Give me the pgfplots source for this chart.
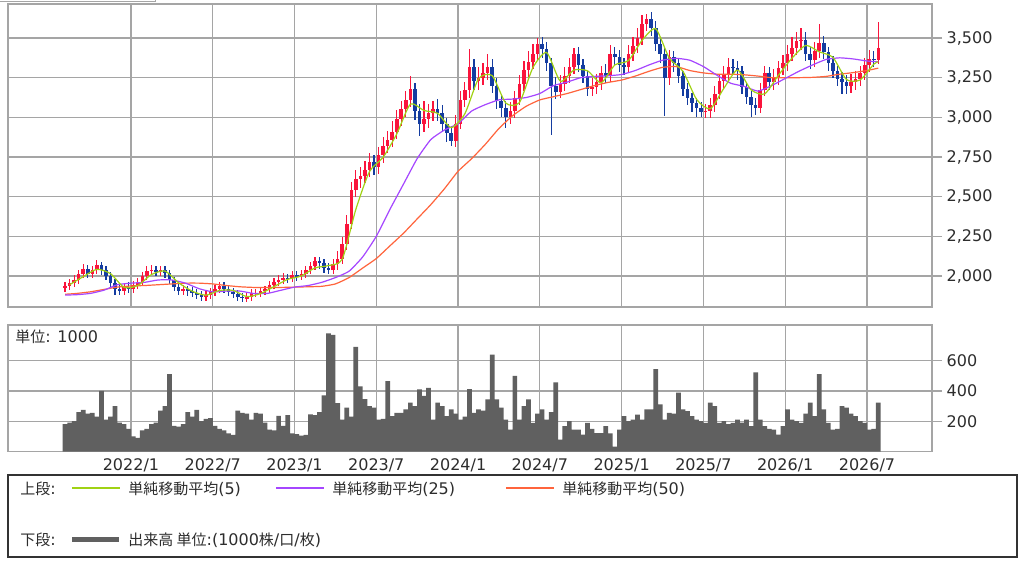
\documentclass[border=0pt]{standalone}
\usepackage{pgfplots}
\pgfplotsset{compat=1.18}
\usepackage{pgfplotstable}
\usepackage{fontspec}
\setmainfont{DejaVu Sans}
\newfontfamily\cjk{Noto Sans CJK JP}
\definecolor{gridc}{RGB}{165,165,165}
\definecolor{upc}{RGB}{250,20,60}
\definecolor{dnc}{RGB}{20,60,160}
\definecolor{ma5c}{RGB}{160,210,20}
\definecolor{ma25c}{RGB}{165,70,255}
\definecolor{ma50c}{RGB}{255,100,60}
\definecolor{volc}{RGB}{96,96,96}
\definecolor{txt}{RGB}{45,45,45}
\newcommand\lf{\fontsize{12pt}{14pt}\selectfont}
\newcommand\jf{\cjk\fontsize{11.25pt}{13pt}\selectfont}

\pgfplotstableread{
o h l c v
1925 1965 1900 1935 180
1935 1980 1910 1955 190
1955 2005 1930 1975 200
1975 2040 1950 2010 260
2010 2075 1985 2045 275
2045 2070 1985 2015 250
2015 2065 1990 2040 255
2040 2100 2015 2070 230
2070 2090 2005 2035 400
2035 2060 1975 2000 210
2000 2025 1930 1955 230
1955 1980 1880 1920 300
1920 1950 1880 1905 190
1905 1955 1880 1930 180
1930 1960 1895 1920 150
1920 1970 1895 1945 100
1945 1990 1920 1965 90
1965 2025 1940 2000 140
2000 2060 1975 2030 150
2030 2070 2005 2040 180
2040 2065 2000 2025 190
2025 2065 2000 2040 270
2040 2060 1990 2020 300
2020 2040 1950 1975 510
1975 1995 1905 1930 170
1930 1955 1880 1905 165
1905 1945 1880 1915 180
1915 1940 1875 1905 260
1905 1930 1865 1890 230
1890 1915 1855 1880 275
1880 1905 1840 1865 200
1865 1905 1840 1880 215
1880 1925 1855 1900 220
1900 1945 1875 1920 170
1920 1960 1895 1935 150
1935 1960 1890 1915 140
1915 1940 1875 1900 120
1900 1925 1860 1885 110
1885 1910 1845 1870 270
1870 1895 1835 1860 255
1860 1890 1835 1865 250
1865 1915 1845 1890 210
1890 1920 1865 1895 255
1895 1930 1870 1905 250
1905 1940 1880 1915 190
1915 1970 1890 1945 145
1945 1990 1920 1965 140
1965 2005 1940 1975 235
1975 2020 1950 1990 170
1990 2015 1955 1985 240
1985 2030 1960 2005 120
2005 2030 1970 2000 115
2000 2040 1975 2010 105
2010 2065 1985 2040 110
2040 2090 2015 2060 245
2060 2120 2035 2095 240
2095 2120 2045 2080 260
2080 2105 2020 2050 370
2050 2080 2010 2040 780
2040 2105 2015 2075 770
2075 2155 2040 2110 320
2110 2245 2075 2200 210
2200 2385 2165 2330 290
2330 2595 2295 2540 230
2540 2665 2495 2610 690
2610 2685 2555 2630 430
2630 2725 2585 2670 345
2670 2775 2625 2720 300
2720 2765 2635 2690 290
2690 2815 2645 2760 211
2760 2875 2715 2820 215
2820 2915 2775 2860 465
2860 2975 2815 2910 233
2910 3045 2865 2990 255
2990 3105 2945 3050 255
3050 3165 3005 3110 278
3110 3260 3065 3180 322
3180 3215 2985 3040 300
3040 3085 2880 2960 410
2960 3105 2905 2990 367
2990 3085 2935 3030 420
3030 3105 2975 3050 211
3050 3115 2975 3030 322
3030 3075 2905 2960 300
2960 2995 2845 2900 233
2900 2945 2820 2850 278
2850 3015 2815 2960 250
2960 3165 2925 3110 211
3110 3225 3065 3170 230
3170 3430 3125 3320 411
3320 3365 3175 3230 255
3230 3315 3175 3250 278
3250 3345 3205 3280 270
3280 3400 3235 3320 344
3320 3365 3155 3200 640
3200 3245 3055 3100 344
3100 3145 3005 3060 289
3060 3105 2935 3000 210
3000 3095 2955 3040 144
3040 3165 2995 3120 500
3120 3265 3075 3210 211
3210 3355 3165 3300 300
3300 3415 3255 3350 344
3350 3465 3305 3400 189
3400 3500 3355 3460 250
3460 3505 3375 3430 278
3430 3475 3295 3340 211
3340 3375 2890 3200 260
3200 3255 3115 3160 456
3160 3265 3125 3210 78
3210 3315 3165 3260 167
3260 3375 3215 3320 200
3320 3440 3275 3400 144
3400 3445 3285 3330 144
3330 3365 3215 3260 111
3260 3295 3135 3180 189
3180 3245 3135 3190 150
3190 3275 3145 3220 122
3220 3325 3175 3280 122
3280 3335 3215 3260 167
3260 3455 3225 3400 120
3400 3445 3325 3380 33
3380 3425 3285 3330 144
3330 3375 3265 3320 233
3320 3455 3285 3400 200
3400 3505 3355 3450 211
3450 3565 3405 3500 244
3500 3645 3455 3590 211
3590 3650 3545 3620 278
3620 3665 3515 3560 278
3560 3605 3415 3460 544
3460 3505 3345 3400 311
3400 3435 3010 3250 211
3250 3425 3205 3380 255
3380 3415 3285 3340 250
3340 3375 3215 3260 389
3260 3295 3135 3180 278
3180 3215 3075 3120 267
3120 3155 3035 3090 233
3090 3125 3005 3060 211
3060 3095 3000 3035 200
3035 3085 2995 3040 189
3040 3125 2995 3080 322
3080 3195 3035 3150 300
3150 3275 3115 3230 189
3230 3325 3185 3270 200
3270 3375 3225 3320 180
3320 3365 3265 3310 189
3310 3355 3235 3290 211
3290 3325 3145 3190 190
3190 3225 3085 3130 211
3130 3165 3000 3080 167
3080 3125 3015 3060 522
3060 3215 3025 3170 211
3170 3325 3135 3280 167
3280 3315 3175 3220 150
3220 3305 3175 3250 144
3250 3355 3205 3310 111
3310 3395 3265 3340 167
3340 3455 3295 3400 278
3400 3505 3355 3440 211
3440 3535 3395 3480 200
3480 3560 3425 3490 189
3490 3535 3355 3400 250
3400 3445 3305 3360 322
3360 3475 3315 3420 233
3420 3590 3375 3470 511
3470 3515 3365 3410 278
3410 3445 3295 3340 189
3340 3385 3245 3290 144
3290 3325 3195 3240 150
3240 3285 3150 3220 300
3220 3265 3145 3200 289
3200 3275 3155 3225 250
3225 3295 3175 3240 233
3240 3325 3195 3280 200
3280 3375 3235 3330 189
3330 3425 3285 3370 144
3370 3415 3315 3360 150
3360 3600 3335 3440 322
}\candles
\pgfplotstablecreatecol[create col/expr={(\pgfplotstablerow-14.5)/3}]{m}\candles

\pgfplotsset{
  chartbase/.style={
    scale only axis, width=693pt,
    xmin=-9.02, xmax=58.77,
    xtick={0,6,...,54},
    ytick pos=right, yticklabel pos=right,
    tick align=outside, major tick length=7.5pt,
    xtick style={draw=none},
    ytick style={gridc, line width=0.9pt},
    grid=major, major grid style={gridc, line width=0.9pt},
    axis line style={gridc, line width=0.9pt},
    tick label style={font=\lf, text=txt},
    yticklabel style={anchor=west},
  },
  wick/.style={draw=none, mark=none, forget plot,
    error bars/y dir=both, error bars/y explicit, error bars/error mark=none,
    error bars/error bar style={draw=#1, line width=0.9pt}},
  body/.style={draw=none, mark=none, forget plot,
    error bars/y dir=both, error bars/y explicit, error bars/error mark=none,
    error bars/error bar style={draw=#1, line width=2.7pt}},
}

\begin{document}
\begin{tikzpicture}
\useasboundingbox (0,0) rectangle (768pt,421.5pt);
\fill[white] (0,0) rectangle (768pt,421.5pt);

% upper panel
\begin{axis}[chartbase,
  at={(6pt,191.25pt)}, anchor=south west, height=227.25pt,
  ymin=1804.6, ymax=3714.3,
  xticklabels={},
  ytick={2000,2250,...,3500},
  yticklabels={{2,000},{2,250},{2,500},{2,750},{3,000},{3,250},{3,500}},
]
\addplot[upc, restrict expr to domain={\thisrow{c}-\thisrow{o}}{0:100000}, wick=upc]
  table[x=m, y expr={(\thisrow{h}+\thisrow{l})/2}, y error expr={(\thisrow{h}-\thisrow{l})/2}] {\candles};
\addplot[dnc, restrict expr to domain={\thisrow{c}-\thisrow{o}}{-100000:-0.01}, wick=dnc]
  table[x=m, y expr={(\thisrow{h}+\thisrow{l})/2}, y error expr={(\thisrow{h}-\thisrow{l})/2}] {\candles};
\addplot[upc, restrict expr to domain={\thisrow{c}-\thisrow{o}}{0:100000}, body=upc]
  table[x=m, y expr={(\thisrow{o}+\thisrow{c})/2}, y error expr={abs(\thisrow{c}-\thisrow{o})/2}] {\candles};
\addplot[dnc, restrict expr to domain={\thisrow{c}-\thisrow{o}}{-100000:-0.01}, body=dnc]
  table[x=m, y expr={(\thisrow{o}+\thisrow{c})/2}, y error expr={abs(\thisrow{c}-\thisrow{o})/2}] {\candles};

% MA50
\addplot[ma50c, line width=0.9pt, smooth, tension=0.3] coordinates {
(-4.83,1885)(-4,1890)(-3,1900)(-2,1915)(-1,1930)(0,1937)(1,1940)(2,1945)(3,1950)(4,1955)
(5,1955)(6,1950)(7,1940)(8,1932)(9,1928)(10,1928)(11,1928)(12,1930)(13,1932)(14,1935)
(15,1950)(16,1990)(17,2050)(18,2110)(19,2190)(20,2270)(21,2360)(22,2450)(23,2550)(24,2660)
(25,2740)(26,2830)(27,2930)(28,3010)(29,3070)(30,3110)(31,3130)(32,3150)(33,3175)(34,3200)
(35,3220)(36,3235)(37,3260)(38,3290)(39,3315)(40,3320)(41,3295)(42,3280)(43,3272)(44,3272)
(45,3268)(46,3260)(47,3250)(48,3250)(49,3250)(50,3252)(51,3258)(52,3272)(53,3282)(54,3295)(54.83,3310)
};
% MA25
\addplot[ma25c, line width=0.9pt, smooth, tension=0.3] coordinates {
(-4.83,1880)(-4,1882)(-3,1890)(-2,1910)(-1,1945)(0,1955)(1,1960)(2,1975)(3,1975)(4,1955)
(5,1920)(6,1900)(7,1905)(8,1905)(9,1890)(10,1890)(11,1910)(12,1930)(13,1940)(14,1960)
(15,1990)(16,2030)(17,2120)(18,2250)(19,2420)(20,2580)(21,2740)(22,2860)(23,2920)(24,2960)
(25,3040)(26,3080)(27,3110)(28,3115)(29,3125)(30,3150)(31,3200)(32,3222)(33,3250)(34,3258)
(35,3262)(36,3270)(37,3295)(38,3330)(39,3360)(40,3372)(41,3360)(42,3320)(43,3265)(44,3215)
(45,3195)(46,3165)(47,3200)(48,3245)(49,3290)(50,3330)(51,3365)(52,3375)(53,3368)(54,3355)(54.83,3350)
};
% MA5
\addplot[ma5c, line width=0.9pt, smooth, tension=0.4] coordinates {
(-4.5,1945)(-3.5,1996)(-2.5,2042)(-1.5,2015)(-0.5,1928)(0.5,1940)(1.5,2009)(2.5,2031)(3.5,1957)(4.5,1904)
(5.5,1879)(6.5,1909)(7.5,1909)(8.5,1870)(9.5,1889)(10.5,1933)(11.5,1979)(12.5,2000)(13.5,2051)(14.5,2066)
(15.5,2106)(16.5,2420)(17.5,2658)(18.5,2748)(19.5,2895)(20.5,3083)(21.5,3043)(22.5,3025)(23.5,2935)(24.5,3023)
(25.5,3243)(26.5,3263)(27.5,3090)(28.5,3093)(29.5,3315)(30.5,3408)(31.5,3228)(32.5,3298)(33.5,3293)(34.5,3218)
(35.5,3330)(36.5,3358)(37.5,3485)(38.5,3558)(39.5,3373)(40.5,3290)(41.5,3113)(42.5,3054)(43.5,3183)(44.5,3298)
(45.5,3173)(46.5,3148)(47.5,3265)(48.5,3373)(49.5,3453)(50.5,3413)(51.5,3378)(52.5,3238)(53.5,3236)(54.5,3335)(54.83,3350)
};
\end{axis}

% lower panel
\begin{axis}[chartbase,
  at={(6pt,82.875pt)}, anchor=south west, height=94.875pt,
  ymin=0, ymax=835,
  xticklabels={2022/1,2022/7,2023/1,2023/7,2024/1,2024/7,2025/1,2025/7,2026/1,2026/7},
  xticklabel style={yshift=6pt},
  ytick={200,400,600},
  yticklabels={200,400,600},
]
\addplot[ybar, bar width=0.345, fill=volc, draw=none] table[x=m, y=v] {\candles};
\end{axis}

\begin{scope}[x=0.75pt, y=-0.75pt, yshift=421.5pt]
\draw[gridc, line width=0.75pt] (0,1.2) -- (155,1.2) -- (155,0);
\node[anchor=west, inner sep=0, text=txt] at (15,337) {{\jf 単位}\lf: 1000};
\draw[black!80, line width=1pt] (8,475) rectangle (1017,557);
\node[anchor=west, inner sep=0, text=txt] at (20,489) {{\jf 上段}\lf:};
\draw[ma5c, line width=1.5pt] (72,488) -- (120,488);
\node[anchor=west, inner sep=0, text=txt] at (128,489) {{\jf 単純移動平均}\lf(5)};
\draw[ma25c, line width=1.5pt] (276,488) -- (324,488);
\node[anchor=west, inner sep=0, text=txt] at (332,489) {{\jf 単純移動平均}\lf(25)};
\draw[ma50c, line width=1.5pt] (506,488) -- (554,488);
\node[anchor=west, inner sep=0, text=txt] at (562,489) {{\jf 単純移動平均}\lf(50)};
\node[anchor=west, inner sep=0, text=txt] at (20,540) {{\jf 下段}\lf:};
\draw[volc, line width=3.75pt] (72,539) -- (119,539);
\node[anchor=west, inner sep=0, text=txt] at (128,540) {{\jf 出来高 単位}\lf:(1000{\jf 株}/{\jf 口}/{\jf 枚})};
\end{scope}
\end{tikzpicture}
\end{document}
